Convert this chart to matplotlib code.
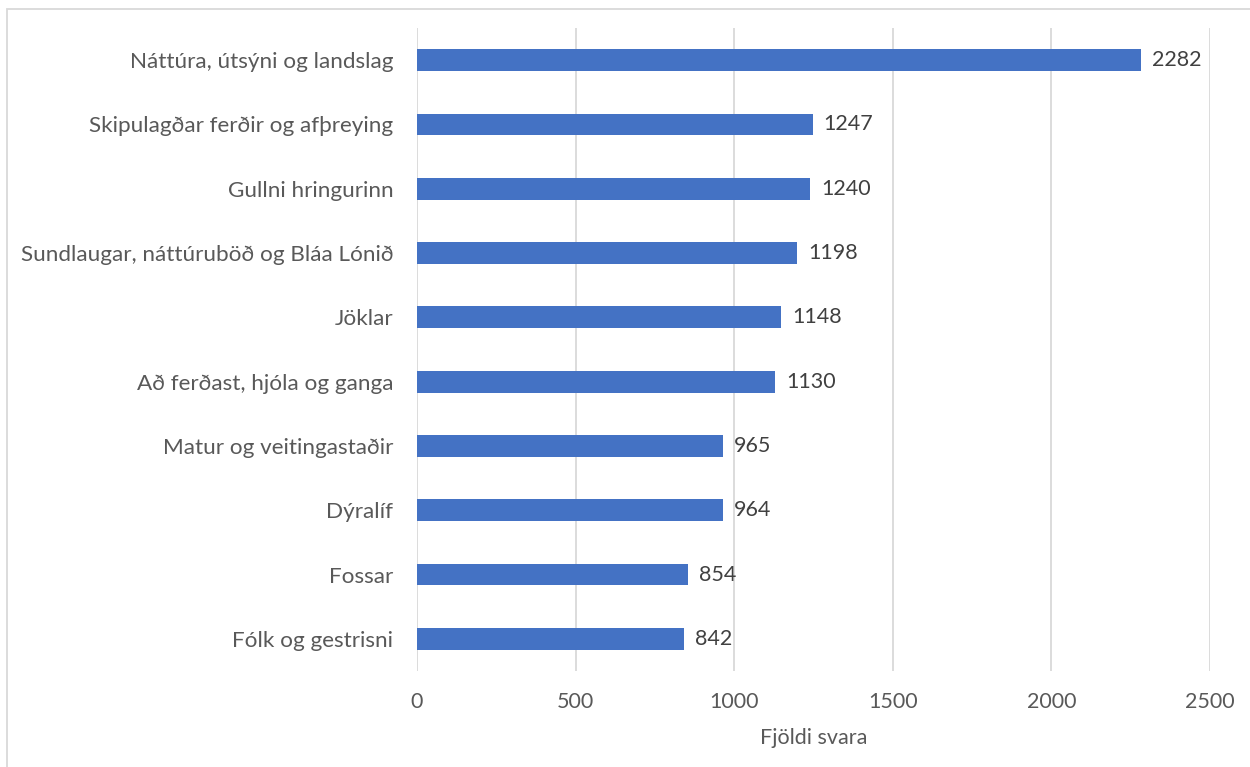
import matplotlib.pyplot as plt
from matplotlib.patches import Rectangle

categories = ['Náttúra, útsýni og landslag', 'Skipulagðar ferðir og afþreying',
              'Gullni hringurinn', 'Sundlaugar, náttúruböð og Bláa Lónið',
              'Jöklar', 'Að ferðast, hjóla og ganga', 'Matur og veitingastaðir',
              'Dýralíf', 'Fossar', 'Fólk og gestrisni']
values = [2282, 1247, 1240, 1198, 1148, 1130, 965, 964, 854, 842]
xticks = [0, 500, 1000, 1500, 2000, 2500]

txt = '#595959'
plt.rcParams['font.family'] = ['Lato', 'DejaVu Sans']

fig = plt.figure(figsize=(12.5, 7.67), dpi=100)
ax = fig.add_axes([417/1250, 1 - 671/767, (1210-417)/1250, (671-28)/767])

pos = list(range(len(categories)))[::-1]
ax.barh(pos, values, height=0.34, color='#4472C4', zorder=3)
for p, v in zip(pos, values):
    ax.text(v + 35, p, str(v), va='center', ha='left', fontsize=15.5, color='#404040')

ax.set_xlim(0, 2500)
ax.set_ylim(-0.5, len(categories) - 0.5)
ax.set_xticks(xticks)
ax.set_xticklabels([str(t) for t in xticks])
ax.set_yticks(pos)
ax.set_yticklabels(categories, fontsize=16.2)
ax.tick_params(axis='both', length=0, colors=txt)
ax.tick_params(axis='x', pad=15, labelsize=15.5)
ax.tick_params(axis='y', pad=17)
ax.grid(axis='x', color='#D9D9D9', linewidth=1.3, zorder=0)
for s in ax.spines.values():
    s.set_visible(False)
ax.set_xlabel('Fjöldi svara', fontsize=15.5, color=txt, labelpad=12)

fig.patches.append(Rectangle((7/1250, -0.1), 1.1, 1 - 9/767 + 0.1, transform=fig.transFigure,
                             fill=False, edgecolor='#D9D9D9', linewidth=1.3))

fig.savefig('out.png', dpi=100)
